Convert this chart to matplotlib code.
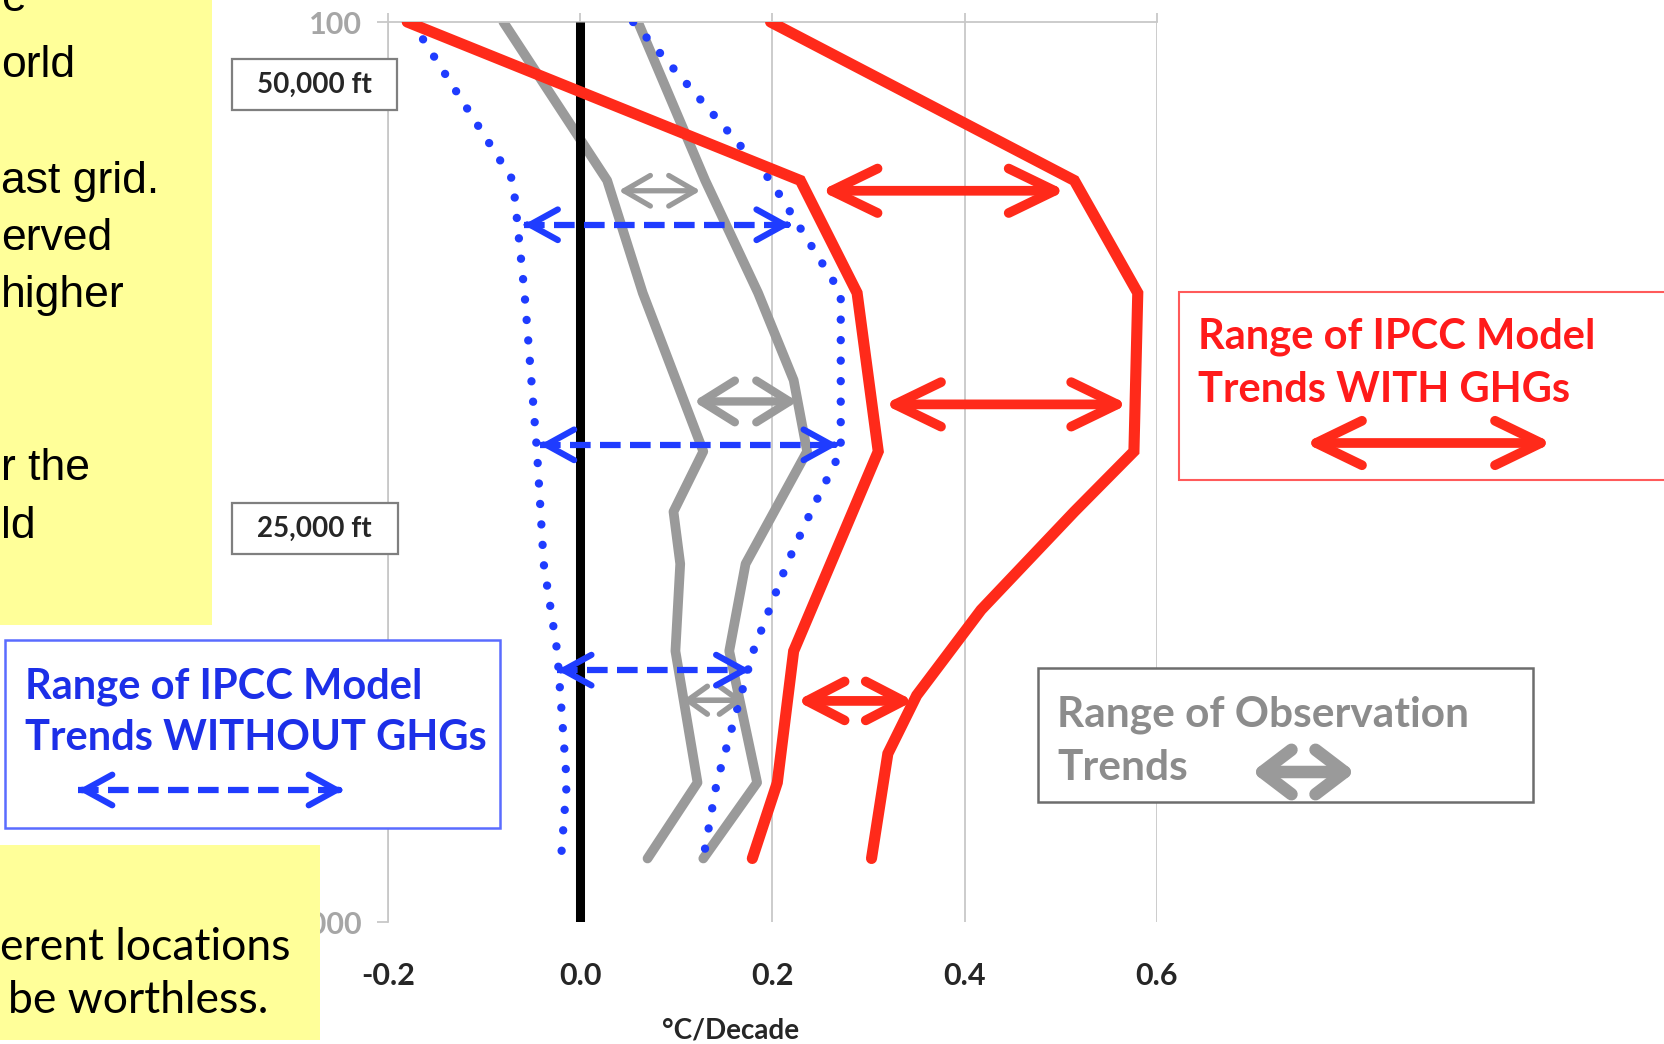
import matplotlib
matplotlib.use('Agg')
import matplotlib.pyplot as plt
from matplotlib.patches import Rectangle, FancyArrowPatch, ArrowStyle

# ---------------- data (pressure in hPa, trend in degC/decade) ----------------
p_with_min = [100, 150, 200, 300, 500, 700, 850]
with_min = [-0.18, 0.229, 0.288, 0.31, 0.222, 0.205, 0.179]
p_with_max = [100, 150, 200, 300, 350, 450, 560, 650, 850]
with_max = [0.198, 0.514, 0.58, 0.576, 0.514, 0.417, 0.35, 0.32, 0.303]

p_obs_min = [100, 150, 200, 300, 350, 400, 500, 700, 850]
obs_min = [-0.08, 0.028, 0.065, 0.128, 0.097, 0.104, 0.099, 0.122, 0.07]
p_obs_max = [100, 150, 200, 250, 300, 400, 500, 700, 850]
obs_max = [0.06, 0.13, 0.185, 0.222, 0.236, 0.172, 0.155, 0.184, 0.128]

p_without_min = [100, 150, 200, 300, 400, 500, 700, 850]
without_min = [-0.175, -0.07, -0.058, -0.045, -0.038, -0.024, -0.014, -0.02]
p_without_max = [100, 150, 200, 300, 350, 400, 500, 700, 850]
without_max = [0.055, 0.198, 0.271, 0.271, 0.24, 0.215, 0.18, 0.142, 0.128]

p_zero = [100, 1000]
zero = [0.0, 0.0]

# range arrows: level, low end, high end
red_arrow_p = [154, 266, 568]
red_arrow_lo = [0.25, 0.316, 0.225]
red_arrow_hi = [0.505, 0.57, 0.347]
gray_arrow_p = [154, 264, 567]
gray_arrow_lo = [0.04, 0.118, 0.107]
gray_arrow_hi = [0.125, 0.226, 0.17]
blue_arrow_p = [168, 295, 525]
blue_arrow_lo = [-0.059, -0.042, -0.024]
blue_arrow_hi = [0.219, 0.268, 0.177]

x_ticks = [-0.2, 0.0, 0.2, 0.4, 0.6]
x_tick_labels = ['-0.2', '0.0', '0.2', '0.4', '0.6']
y_ticks = [100, 1000]
y_tick_labels = ['100', '1000']

RED = '#ff2a1a'
GRAY = '#9a9a9a'
BLUE = '#1f3cff'
BLUE_TXT = '#1c2fe8'
W, H = 1665, 1044

fig = plt.figure(figsize=(W / 100, H / 100), dpi=100)
fig.patch.set_facecolor('white')

def fx(px):
    return px / W

def fy(py):
    return 1 - py / H

ax = fig.add_axes([fx(388), fy(922), fx(1157) - fx(388), (922 - 22) / H])
ax.set_yscale('log')
ax.set_xlim(-0.2, 0.6)
ax.set_ylim(1000, 100)
ax.set_facecolor('none')

# grid / spines
for s in ['right', 'bottom']:
    ax.spines[s].set_visible(False)
for s in ['left', 'top']:
    ax.spines[s].set_color('#c8c8c8')
    ax.spines[s].set_linewidth(1.3)
ax.set_xticks(x_ticks)
ax.set_xticklabels(x_tick_labels)
ax.set_yticks(y_ticks)
ax.set_yticklabels(y_tick_labels)
ax.yaxis.set_minor_locator(matplotlib.ticker.NullLocator())
ax.xaxis.grid(True, color='#c8c8c8', linewidth=1.3)
ax.tick_params(axis='x', which='major', top=True, bottom=False, labeltop=False,
               labelbottom=True, direction='out', length=6.5, width=1.3,
               color='#c8c8c8', pad=22, labelsize=22, labelcolor='#262626')
ax.tick_params(axis='y', which='major', left=True, direction='out', length=8,
               width=1.3, color='#c8c8c8', pad=10.5, labelsize=22, labelcolor='#a6a6a6')
for lab in ax.get_xticklabels() + ax.get_yticklabels():
    lab.set_fontfamily('Lato')
    lab.set_fontweight('bold')

# profiles
ax.plot(zero, p_zero, color='black', lw=6.5, solid_capstyle='butt', zorder=3)
ax.plot(obs_min, p_obs_min, color=GRAY, lw=7, solid_capstyle='round', solid_joinstyle='round', zorder=2)
ax.plot(obs_max, p_obs_max, color=GRAY, lw=7, solid_capstyle='round', solid_joinstyle='round', zorder=2)
for xs, ps in [(without_min, p_without_min), (without_max, p_without_max)]:
    ax.plot(xs, ps, color=BLUE, lw=6, linestyle=(0, (0.01, 2.45)),
            dash_capstyle='round', zorder=4)
ax.plot(with_min, p_with_min, color=RED, lw=8, solid_capstyle='round', solid_joinstyle='miter', zorder=5)
ax.plot(with_max, p_with_max, color=RED, lw=8, solid_capstyle='round', solid_joinstyle='miter', zorder=5)

def darrow(target, a, b, color, lw, hl, hw, transform, z=6):
    st = ArrowStyle('<->', head_length=hl, head_width=hw)
    ar = FancyArrowPatch(a, b, arrowstyle=st, mutation_scale=1, color=color, lw=lw,
                         shrinkA=0, shrinkB=0, capstyle='round', joinstyle='round',
                         transform=transform, zorder=z)
    target.add_artist(ar)

def dashed_arrow(target, a, b, color, lw, hl, hw, transform, eps, z=6):
    (x0, y0), (x1, y1) = a, b
    ln = matplotlib.lines.Line2D([x0, x1], [y0, y1], color=color, lw=lw,
                                 dashes=(3.3, 1.5), dash_capstyle='butt',
                                 transform=transform, zorder=z)
    target.add_artist(ln)
    st = ArrowStyle('->', head_length=hl, head_width=hw)
    for tip, frm in [((x0, y0), (x0 + eps, y0)), ((x1, y1), (x1 - eps, y1))]:
        ar = FancyArrowPatch(frm, tip, arrowstyle=st, mutation_scale=1, color=color, lw=lw,
                             shrinkA=0, shrinkB=0, capstyle='round', joinstyle='round',
                             transform=transform, zorder=z)
        target.add_artist(ar)

red_hl = [33, 33, 27]
red_hw = [16, 16, 14]
for i, (p, lo, hi) in enumerate(zip(red_arrow_p, red_arrow_lo, red_arrow_hi)):
    darrow(ax, (lo, p), (hi, p), RED, 7, red_hl[i], red_hw[i], ax.transData)
gray_lw = [3.8, 6, 4]
gray_hl = [19, 24, 14]
gray_hw = [11, 15, 10]
for i, (p, lo, hi) in enumerate(zip(gray_arrow_p, gray_arrow_lo, gray_arrow_hi)):
    darrow(ax, (lo, p), (hi, p), GRAY, gray_lw[i], gray_hl[i], gray_hw[i], ax.transData)
for p, lo, hi in zip(blue_arrow_p, blue_arrow_lo, blue_arrow_hi):
    dashed_arrow(ax, (lo, p), (hi, p), BLUE, 4.5, 20, 11, ax.transData, 0.004)

# x label
fig.text(fx(731), fy(1030), '°C/Decade', ha='center', va='center', fontsize=20,
         fontfamily='Lato', fontweight='bold', color='#262626')

def box(x0, y0, x1, y1, ec, lw, fc='white', z=8):
    r = Rectangle((fx(x0), fy(y1)), fx(x1) - fx(x0), fy(y0) - fy(y1), transform=fig.transFigure,
                  facecolor=fc, edgecolor=ec, linewidth=lw, zorder=z)
    fig.add_artist(r)

# altitude boxes
box(232, 59, 397, 110, '#7f7f7f', 1.6)
fig.text(fx(314), fy(85), '50,000 ft', ha='center', va='center', fontsize=20,
         fontfamily='Lato', fontweight='bold', color='#262626', zorder=9)
box(232, 503, 398, 554, '#7f7f7f', 1.6)
fig.text(fx(314), fy(529), '25,000 ft', ha='center', va='center', fontsize=20,
         fontfamily='Lato', fontweight='bold', color='#262626', zorder=9)

# legend boxes
box(5, 640, 500, 828, '#5a6cff', 1.8)
fig.text(fx(25), fy(698), 'Range of IPCC Model', ha='left', va='baseline', fontsize=30,
         fontfamily='Lato', fontweight='bold', color=BLUE_TXT, zorder=9)
fig.text(fx(25), fy(750), 'Trends WITHOUT GHGs', ha='left', va='baseline', fontsize=30,
         fontfamily='Lato', fontweight='bold', color=BLUE_TXT, zorder=9)
dashed_arrow(fig, (fx(78), fy(790)), (fx(343), fy(790)), BLUE, 4.5, 20, 11, fig.transFigure, 0.003, z=9)

box(1179, 292, 1680, 480, '#ff5a5a', 1.5)
fig.text(fx(1198), fy(349), 'Range of IPCC Model', ha='left', va='baseline', fontsize=30,
         fontfamily='Lato', fontweight='bold', color='#ff1a1a', zorder=9)
fig.text(fx(1198), fy(402), 'Trends WITH GHGs', ha='left', va='baseline', fontsize=30,
         fontfamily='Lato', fontweight='bold', color='#ff1a1a', zorder=9)
darrow(fig, (fx(1305), fy(443)), (fx(1552), fy(443)), RED, 7, 33, 16, fig.transFigure, z=9)

box(1038, 668, 1533, 802, '#6d6d6d', 1.8)
fig.text(fx(1057), fy(727), 'Range of Observation', ha='left', va='baseline', fontsize=30.5,
         fontfamily='Lato', fontweight='bold', color='#8c8c8c', zorder=9)
fig.text(fx(1057), fy(780), 'Trends', ha='left', va='baseline', fontsize=30.5,
         fontfamily='Lato', fontweight='bold', color='#8c8c8c', zorder=9)
darrow(fig, (fx(1252), fy(772)), (fx(1355), fy(772)), GRAY, 9, 21, 16, fig.transFigure, z=9)

# yellow side notes (cropped slide text)
box(0, -5, 212, 625, 'none', 0, fc='#ffff99', z=10)
top_lines = [('e', 11), ('orld', 77), ('ast grid.', 193), ('erved', 250),
             ('higher', 307), ('r the', 480), ('ld', 538)]
for s, yb in top_lines:
    fig.text(fx(1), fy(yb), s, ha='left', va='baseline', fontsize=32,
             fontfamily='Liberation Sans', color='black', zorder=11)
box(0, 845, 320, 1040, 'none', 0, fc='#ffff99', z=10)
fig.text(fx(0), fy(960), 'erent locations', ha='left', va='baseline', fontsize=32,
         fontfamily='Lato', color='black', zorder=11)
fig.text(fx(8), fy(1013), 'be worthless.', ha='left', va='baseline', fontsize=32,
         fontfamily='Lato', color='black', zorder=11)

fig.savefig('out.png', dpi=100, facecolor='white')
